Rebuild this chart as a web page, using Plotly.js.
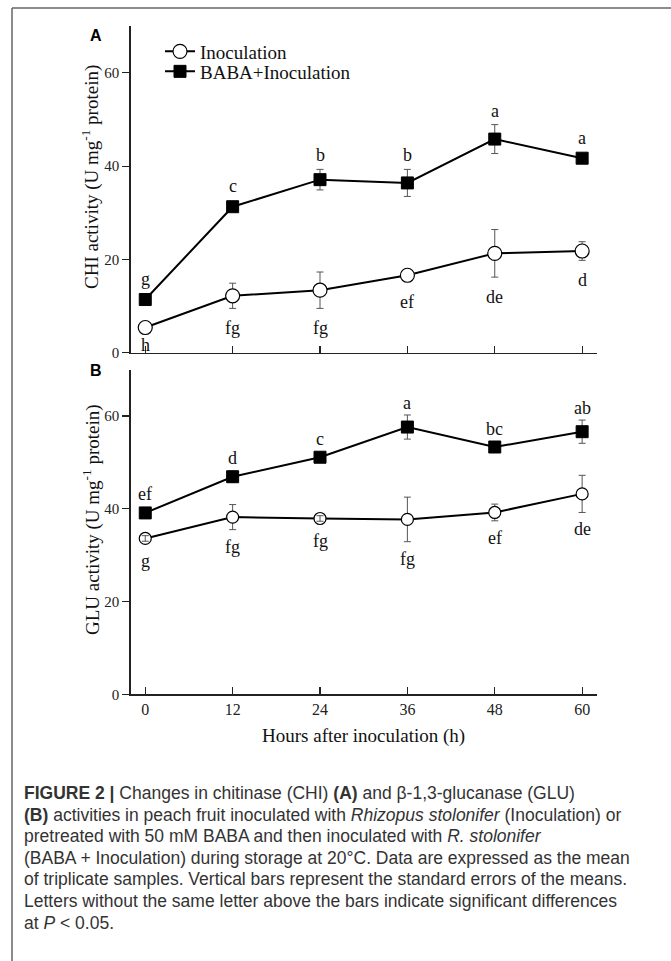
<!DOCTYPE html>
<html>
<head>
<meta charset="utf-8">
<script src="https://cdn.plot.ly/plotly-3.0.1.min.js"></script>
<style>
  html, body { margin: 0; padding: 0; background: #fff; }
  #chart { width: 671px; height: 961px; }
</style>
</head>
<body>
<div id="chart"></div>
<script>
// ---- data ----
const hours = [0, 12, 24, 36, 48, 60];
const tickLabels = ['0', '12', '24', '36', '48', '60'];

const chiInoc = [5.4, 12.2, 13.4, 16.6, 21.3, 21.8];
const chiInocErr = [0.5, 2.7, 3.9, 0.5, 5.1, 2.0];
const chiBaba = [11.4, 31.3, 37.1, 36.4, 45.8, 41.7];
const chiBabaErr = [0.8, 0.8, 2.2, 2.9, 3.1, 0.8];
const chiInocLetters = ['h', 'fg', 'fg', 'ef', 'de', 'd'];
const chiBabaLetters = ['g', 'c', 'b', 'b', 'a', 'a'];

const gluInoc = [33.6, 38.2, 37.9, 37.7, 39.2, 43.2];
const gluInocErr = [0.6, 2.7, 0.6, 4.8, 1.8, 4.0];
const gluBaba = [39.1, 46.9, 51.1, 57.6, 53.3, 56.6];
const gluBabaErr = [0.8, 1.2, 0.8, 2.6, 1.0, 2.5];
const gluInocLetters = ['g', 'fg', 'fg', 'fg', 'ef', 'de'];
const gluBabaLetters = ['ef', 'd', 'c', 'a', 'bc', 'ab'];

const seriesNames = ['Inoculation', 'BABA+Inoculation'];

// ---- layout geometry (px) ----
const W = 671, H = 961;
const serif = 'Liberation Serif, Times New Roman, serif';
const sans = 'Liberation Sans, Arial, sans-serif';
const px = v => v / W;
const py = v => 1 - v / H;

const xDom = [px(130.7), px(596.7)];
const yDomA = [py(352.7), py(26.2)];
const yDomB = [py(694.4), py(369.5)];
const yRange = [0, 70];
const pxPerUnitA = (352.7 - 26.2) / 70;
const pxPerUnitB = (694.4 - 369.5) / 70;

function errObj(arr) {
  return { type: 'data', array: arr, visible: true, color: '#555', thickness: 1, width: 3.5 };
}
function inocTrace(y, e, xa, ya, size, showlegend) {
  return {
    x: hours, y: y, xaxis: xa, yaxis: ya, type: 'scatter', mode: 'lines+markers',
    name: seriesNames[0], showlegend: showlegend, legend: 'legend',
    line: { color: '#000', width: 2 },
    marker: { symbol: 'circle', size: size, color: '#fff', line: { color: '#000', width: 1.2 } },
    error_y: errObj(e)
  };
}
function babaTrace(y, e, xa, ya, showlegend) {
  return {
    x: hours, y: y, xaxis: xa, yaxis: ya, type: 'scatter', mode: 'lines+markers',
    name: seriesNames[1], showlegend: showlegend, legend: 'legend2',
    line: { color: '#000', width: 2 },
    marker: { symbol: 'square', size: 12, color: '#000', line: { color: '#000', width: 1 } },
    error_y: errObj(e)
  };
}
// small error bars that fall inside the open circle are visible through it
function innerErrTrace(y, e, xa, ya, ppu, radius) {
  return {
    x: hours, y: y, xaxis: xa, yaxis: ya, type: 'scatter', mode: 'markers',
    showlegend: false, hoverinfo: 'skip',
    marker: { size: 1, opacity: 0 },
    error_y: errObj(e.map(v => (v * ppu < radius ? v : NaN)))
  };
}

const traces = [
  inocTrace(chiInoc, chiInocErr, 'x', 'y', 14, true),
  babaTrace(chiBaba, chiBabaErr, 'x', 'y', true),
  inocTrace(gluInoc, gluInocErr, 'x2', 'y2', 12, false),
  babaTrace(gluBaba, gluBabaErr, 'x2', 'y2', false),
  innerErrTrace(gluInoc, gluInocErr, 'x2', 'y2', pxPerUnitB, 6)
];

// ---- letter annotations ----
const annotations = [];
function letters(vals, errs, labs, xref, yref, above, ppu, markerHalf, gap) {
  for (let i = 0; i < hours.length; i++) {
    const reach = Math.max(errs[i] * ppu, markerHalf);
    let shift = above ? reach + gap : -(reach + gap);
    const minShift = 8 - vals[i] * ppu;   // stay above the x axis
    if (shift < minShift) shift = minShift;
    annotations.push({
      x: hours[i], y: vals[i], xref: xref, yref: yref, text: labs[i], showarrow: false,
      xanchor: 'center', yanchor: 'middle', yshift: shift,
      font: { family: serif, size: 18, color: '#111' }
    });
  }
}
letters(chiBaba, chiBabaErr, chiBabaLetters, 'x', 'y', true, pxPerUnitA, 6.5, 14);
letters(chiInoc, chiInocErr, chiInocLetters, 'x', 'y', false, pxPerUnitA, 7, 20);
letters(gluBaba, gluBabaErr, gluBabaLetters, 'x2', 'y2', true, pxPerUnitB, 6.5, 12);
letters(gluInoc, gluInocErr, gluInocLetters, 'x2', 'y2', false, pxPerUnitB, 6, 17);

// axis titles, panel labels
annotations.push(
  { xref: 'paper', yref: 'paper', x: px(91), y: py(177), textangle: -90, showarrow: false,
    xanchor: 'center', yanchor: 'middle',
    text: 'CHI activity (U mg<sup>-1</sup> protein)', font: { family: serif, size: 19, color: '#111' } },
  { xref: 'paper', yref: 'paper', x: px(91), y: py(520), textangle: -90, showarrow: false,
    xanchor: 'center', yanchor: 'middle',
    text: 'GLU activity (U mg<sup>-1</sup> protein)', font: { family: serif, size: 19, color: '#111' } },
  { xref: 'paper', yref: 'paper', x: px(363.7), y: py(736), showarrow: false,
    xanchor: 'center', yanchor: 'middle',
    text: 'Hours after inoculation (h)', font: { family: serif, size: 19, color: '#111' } },
  { xref: 'paper', yref: 'paper', x: px(96), y: py(36), showarrow: false,
    xanchor: 'center', yanchor: 'middle',
    text: '<b>A</b>', font: { family: sans, size: 16, color: '#000' } },
  { xref: 'paper', yref: 'paper', x: px(96), y: py(371), showarrow: false,
    xanchor: 'center', yanchor: 'middle',
    text: '<b>B</b>', font: { family: sans, size: 16, color: '#000' } }
);

// caption (one annotation per line for exact spacing)
const captionLines = [
  '<b>FIGURE 2 |</b> Changes in chitinase (CHI) <b>(A)</b> and β-1,3-glucanase (GLU)',
  '<b>(B)</b> activities in peach fruit inoculated with <i>Rhizopus stolonifer</i> (Inoculation) or',
  'pretreated with 50 mM BABA and then inoculated with <i>R. stolonifer</i>',
  '(BABA + Inoculation) during storage at 20°C. Data are expressed as the mean',
  'of triplicate samples. Vertical bars represent the standard errors of the means.',
  'Letters without the same letter above the bars indicate significant differences',
  'at <i>P</i> &lt; 0.05.'
];
captionLines.forEach((t, i) => {
  annotations.push({
    xref: 'paper', yref: 'paper', x: px(22), y: py(793 + i * 21.6), xanchor: 'left', yanchor: 'middle',
    align: 'left', showarrow: false, text: t,
    font: { family: sans, size: 17.5, color: '#333' }
  });
});

const axisCommon = {
  showline: true, linecolor: '#222', linewidth: 1.5, showgrid: false, zeroline: false,
  mirror: false, tickcolor: '#222', tickwidth: 1.2
};
const legendCommon = {
  xanchor: 'left', yanchor: 'top', bgcolor: 'rgba(0,0,0,0)', borderwidth: 0,
  font: { family: serif, size: 19, color: '#111' }, itemclick: false
};

const layout = {
  width: W, height: H,
  margin: { l: 0, r: 0, t: 0, b: 0 },
  paper_bgcolor: '#fff', plot_bgcolor: 'rgba(0,0,0,0)',
  showlegend: true,
  legend: Object.assign({}, legendCommon, { x: px(160), y: py(32.5) }),
  legend2: Object.assign({}, legendCommon, { x: px(160), y: py(52.5) }),
  xaxis: Object.assign({}, axisCommon, {
    domain: xDom, anchor: 'y', range: [-2, 62], tickvals: hours, ticktext: tickLabels,
    ticks: 'inside', ticklen: 7, showticklabels: false
  }),
  yaxis: Object.assign({}, axisCommon, {
    domain: yDomA, anchor: 'x', range: yRange, tickvals: [0, 20, 40, 60],
    ticks: 'outside', ticklen: 7, tickfont: { family: serif, size: 15, color: '#222' }
  }),
  xaxis2: Object.assign({}, axisCommon, {
    domain: xDom, anchor: 'y2', range: [-2, 62], tickvals: hours, ticktext: tickLabels,
    ticks: 'inside', ticklen: 7, tickfont: { family: serif, size: 16, color: '#222' }
  }),
  yaxis2: Object.assign({}, axisCommon, {
    domain: yDomB, anchor: 'x2', range: yRange, tickvals: [0, 20, 40, 60],
    ticks: 'outside', ticklen: 7, tickfont: { family: serif, size: 15, color: '#222' }
  }),
  annotations: annotations,
  shapes: [
    { type: 'line', xref: 'paper', yref: 'paper', x0: px(12), x1: 1, y0: py(8), y1: py(8),
      line: { color: '#666', width: 1.5 } },
    { type: 'line', xref: 'paper', yref: 'paper', x0: px(12), x1: px(12), y0: py(8), y1: 0,
      line: { color: '#666', width: 1.5 } }
  ]
};

Plotly.newPlot('chart', traces, layout, { displayModeBar: false, staticPlot: true });
</script>
</body>
</html>
